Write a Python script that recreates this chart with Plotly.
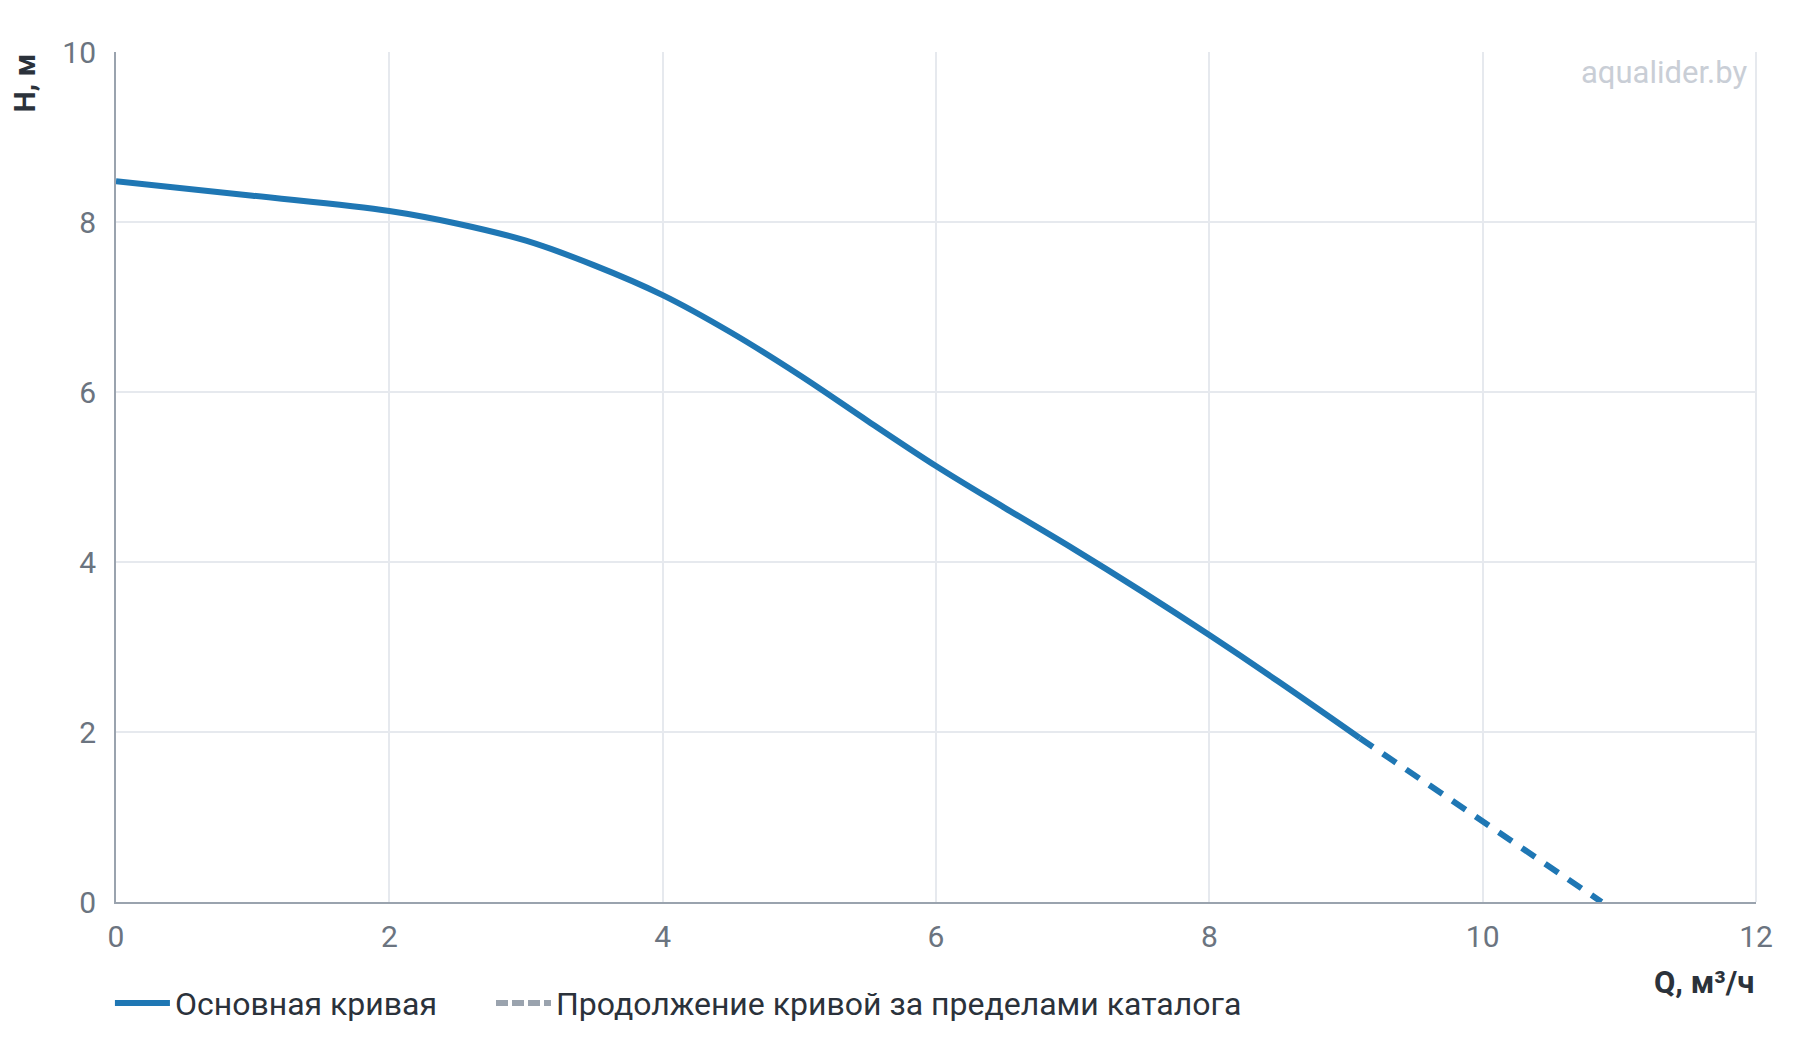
import plotly.graph_objects as go

# Main catalogue curve
q_main = [0, 1, 2, 2.5, 3, 3.5, 4, 4.5, 5, 5.5, 6, 6.5, 7, 7.5, 8, 8.5, 9.1]
h_main = [8.48, 8.31, 8.13, 7.98, 7.78, 7.49, 7.14, 6.70, 6.20, 5.66, 5.13, 4.64, 4.16, 3.66, 3.14, 2.60, 1.93]

# Extension beyond catalogue
q_ext = [9.1, 10, 10.87]
h_ext = [1.93, 0.94, 0.0]

x_ticks = [0, 2, 4, 6, 8, 10, 12]
y_ticks = [0, 2, 4, 6, 8, 10]

legend_names = ["Основная кривая", "Продолжение кривой за пределами каталога"]

BLUE = "#1f77b4"
GRID = "#e6e9ee"
AXIS = "#9aa3ae"
TICK = "#6b7480"
DARK = "#2b323b"
FONT = "Roboto"

fig = go.Figure()
fig.add_trace(go.Scatter(x=q_main, y=h_main, mode="lines", name=legend_names[0], legend="legend",
                         line=dict(color=BLUE, width=6, shape="spline", smoothing=1.0)))
fig.add_trace(go.Scatter(x=q_ext, y=h_ext, mode="lines", showlegend=False,
                         line=dict(color=BLUE, width=6, dash="16px,12px")))
fig.add_trace(go.Scatter(x=[None], y=[None], mode="lines", name=legend_names[1], legend="legend2",
                         line=dict(color=AXIS, width=6, dash="12px,4px")))

leg_common = dict(orientation="h", xanchor="left", yanchor="middle", y=-0.119,
                  font=dict(family=FONT, size=32, color=DARK), itemwidth=55,
                  bgcolor="rgba(0,0,0,0)")

fig.update_layout(
    width=1800, height=1040,
    margin=dict(l=116, r=44, t=52, b=138, autoexpand=False),
    paper_bgcolor="white", plot_bgcolor="white",
    font=dict(family=FONT, size=30, color=TICK),
    showlegend=True,
    legend=dict(x=-0.0037, **leg_common),
    legend2=dict(x=(491 - 116) / 1640, **leg_common),
    xaxis=dict(range=[0, 12], tickvals=x_ticks, showgrid=True, gridcolor=GRID, gridwidth=2,
               showline=True, linecolor=AXIS, linewidth=2, zeroline=False,
               ticks="", ticklabelstandoff=7, tickfont=dict(size=30, color=TICK)),
    yaxis=dict(range=[0, 10], tickvals=y_ticks, showgrid=True, gridcolor=GRID, gridwidth=2,
               showline=True, linecolor=AXIS, linewidth=2, zeroline=False,
               ticks="", ticklabelstandoff=12, tickfont=dict(size=30, color=TICK)),
    shapes=[dict(type="line", xref="paper", yref="paper", x0=1, x1=1, y0=0, y1=1,
                 line=dict(color=GRID, width=2))],
    annotations=[
        dict(text="<b>H, м</b>", xref="paper", yref="paper", x=(24 - 116) / 1640, y=1.0,
             xanchor="center", yanchor="top", textangle=-90, showarrow=False,
             font=dict(family=FONT, size=30, color=DARK)),
        dict(text="<b>Q, м³/ч</b>", xref="paper", yref="paper", x=1.0,
             y=(902 - 983) / 850, xanchor="right", yanchor="middle", showarrow=False,
             font=dict(family=FONT, size=31, color=DARK)),
        dict(text="aqualider.by", xref="paper", yref="paper", x=(1749 - 116) / 1640,
             y=(902 - 72) / 850, xanchor="right", yanchor="middle", showarrow=False,
             font=dict(family=FONT, size=31, color="#c9ced6")),
    ],
)

fig.write_html("out.html")
